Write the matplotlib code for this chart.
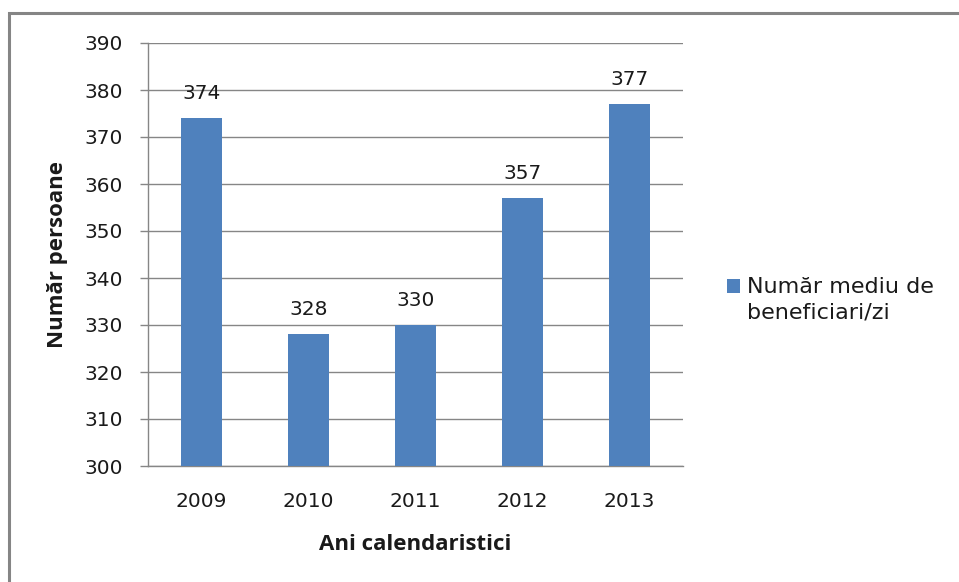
import matplotlib
matplotlib.use("Agg")
import matplotlib.pyplot as plt
from matplotlib.patches import Rectangle

years = ["2009", "2010", "2011", "2012", "2013"]
values = [374, 328, 330, 357, 377]
series_name = "Număr mediu de\nbeneficiari/zi"
y_ticks = [300, 310, 320, 330, 340, 350, 360, 370, 380, 390]

W, H = 959, 582
fig = plt.figure(figsize=(W / 100, H / 100), dpi=100)
fig.patch.set_facecolor("white")

# outer frame (top and left visible)
fig.add_artist(Rectangle((9 / W, -0.1), 1.2, 1.1 - 13 / H, transform=fig.transFigure,
                         fill=False, edgecolor="#858585", linewidth=2.2, zorder=0))

ax = fig.add_axes([148 / W, 1 - 466 / H, (683 - 148) / W, (466 - 43) / H])
bar_color = "#4F81BD"
grid_color = "#868686"
text_color = "#1a1a1a"
x = range(len(years))
bars = ax.bar(x, values, width=0.39, color=bar_color, zorder=3, label=series_name)
ax.set_xlim(-0.5, len(years) - 0.5)
ax.set_ylim(300, 390)
ax.set_yticks(y_ticks)
ax.set_xticks(list(x))
ax.set_xticklabels(years)
ax.yaxis.grid(True, color=grid_color, linewidth=1.0, zorder=0)
ax.set_axisbelow(True)
for s in ["top", "right"]:
    ax.spines[s].set_visible(False)
for s in ["left", "bottom"]:
    ax.spines[s].set_color(grid_color)
    ax.spines[s].set_linewidth(1.0)
ax.tick_params(axis="y", length=6, color=grid_color, width=1.0, pad=12, labelsize=14.5, labelcolor=text_color)
ax.tick_params(axis="x", length=0, pad=19, labelsize=14.5, labelcolor=text_color)

for b, v in zip(bars, values):
    ax.annotate(str(v), (b.get_x() + b.get_width() / 2, v), xytext=(0, 18),
                textcoords="offset points", ha="center", va="center", fontsize=14.5, color=text_color)

ax.set_xlabel("Ani calendaristici", fontsize=16, fontweight="bold", labelpad=16, family="Open Sans",
              color=text_color)
ax.set_ylabel("Număr persoane", fontsize=16, fontweight="bold", labelpad=12, family="Open Sans",
              color=text_color)

fs_leg = 16
leg = fig.legend(handles=[bars], labels=[series_name], loc="center left",
                 bbox_to_anchor=(727 / W, 1 - 300 / H), frameon=False,
                 prop={"family": "DejaVu Sans", "size": fs_leg}, handlelength=0.6,
                 handleheight=0.6, handletextpad=0.3, borderpad=0, borderaxespad=0)
for t in leg.get_texts():
    t.set_linespacing(1.35)
    t.set_color(text_color)
h = leg.legend_handles[0]
h.set_y(h.get_y() + 0.5 * 1.35 * fs_leg * 0.97)

fig.savefig("out.png", dpi=100)
